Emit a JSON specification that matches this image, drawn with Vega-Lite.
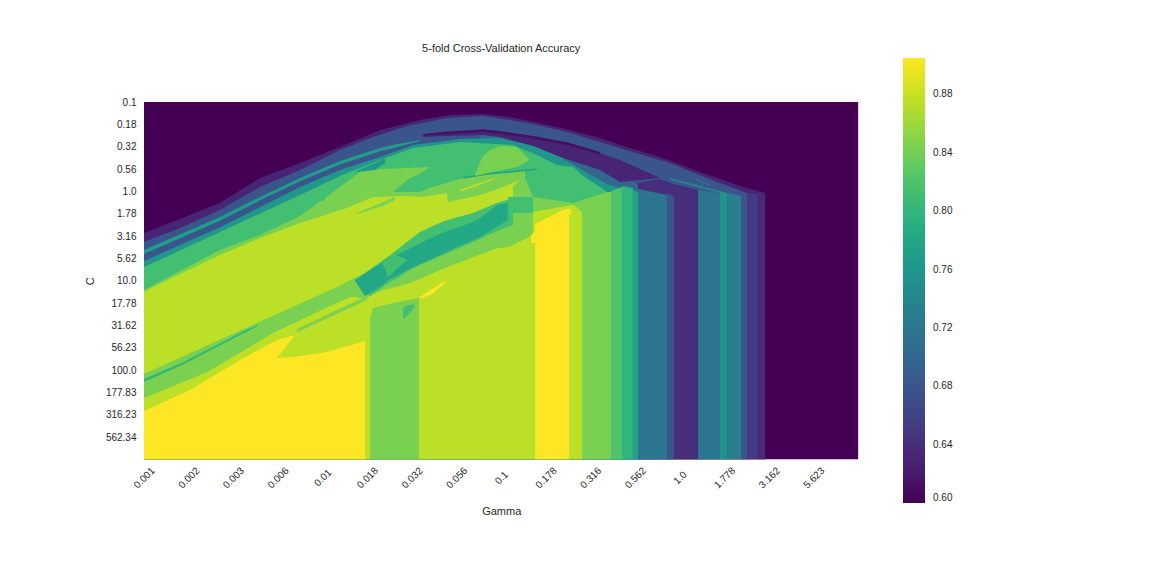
{"$schema":"https://vega.github.io/schema/vega-lite/v6.json","autosize":"none","padding":{"left":144,"top":102,"right":293.6,"bottom":116.5},"width":714.4,"height":357.5,"background":"white","title":{"text":"5-fold Cross-Validation Accuracy","fontSize":11,"font":"Liberation Sans","fontWeight":"normal","color":"#262626","offset":4},
"config":{"view":{"stroke":null}},
"data":{"values":[
{"r":0,"v":0.6,"g":0,"a":0,"b":160},{"r":0,"v":0.6,"g":320,"a":0,"b":160},
{"r":1,"v":0.63,"g":0,"a":58.6,"b":160},{"r":1,"v":0.63,"g":16.1,"a":52.4,"b":160},{"r":1,"v":0.63,"g":34,"a":45.2,"b":160},{"r":1,"v":0.63,"g":52,"a":34,"b":160},{"r":1,"v":0.63,"g":69.9,"a":27.3,"b":160},{"r":1,"v":0.63,"g":87.8,"a":20.1,"b":160},{"r":1,"v":0.63,"g":105.7,"a":12.5,"b":160},{"r":1,"v":0.63,"g":123.6,"a":8.1,"b":160},{"r":1,"v":0.63,"g":137,"a":5.8,"b":160},{"r":1,"v":0.63,"g":151.9,"a":5.4,"b":160},{"r":1,"v":0.63,"g":164,"a":6.7,"b":160},{"r":1,"v":0.63,"g":185,"a":11.2,"b":160},{"r":1,"v":0.63,"g":204.3,"a":16.1,"b":160},{"r":1,"v":0.63,"g":213.2,"a":19.2,"b":160},{"r":1,"v":0.63,"g":231.2,"a":24.6,"b":160},{"r":1,"v":0.63,"g":249,"a":31.3,"b":160},{"r":1,"v":0.63,"g":267,"a":37.6,"b":160},{"r":1,"v":0.63,"g":278.2,"a":40.7,"b":160},
{"r":2,"v":0.68,"g":0,"a":62.7,"b":160},{"r":2,"v":0.68,"g":16.1,"a":56.4,"b":160},{"r":2,"v":0.68,"g":34,"a":48.3,"b":160},{"r":2,"v":0.68,"g":52,"a":38,"b":160},{"r":2,"v":0.68,"g":69.9,"a":30.4,"b":160},{"r":2,"v":0.68,"g":87.8,"a":21.5,"b":160},{"r":2,"v":0.68,"g":102.6,"a":15.7,"b":160},{"r":2,"v":0.68,"g":117.8,"a":10.7,"b":160},{"r":2,"v":0.68,"g":135.7,"a":7.2,"b":160},{"r":2,"v":0.68,"g":151.9,"a":6.3,"b":160},{"r":2,"v":0.68,"g":164,"a":8.1,"b":160},{"r":2,"v":0.68,"g":174.3,"a":9.8,"b":160},{"r":2,"v":0.68,"g":189.5,"a":13.4,"b":160},{"r":2,"v":0.68,"g":204.3,"a":17.9,"b":160},{"r":2,"v":0.68,"g":219,"a":22.4,"b":160},{"r":2,"v":0.68,"g":235.6,"a":27.3,"b":160},{"r":2,"v":0.68,"g":249,"a":32.7,"b":160},{"r":2,"v":0.68,"g":258,"a":36.3,"b":160},{"r":2,"v":0.68,"g":270.1,"a":40.7,"b":160},
{"r":3,"v":0.7,"g":150.5,"a":14.8,"b":160},{"r":3,"v":0.7,"g":168.4,"a":16.1,"b":160},{"r":3,"v":0.7,"g":186.4,"a":21.5,"b":160},{"r":3,"v":0.7,"g":204.3,"a":28.2,"b":160},{"r":3,"v":0.7,"g":222.2,"a":37.2,"b":160},
{"r":4,"v":0.63,"g":125,"a":14.8,"b":15.7},{"r":4,"v":0.63,"g":135.7,"a":13,"b":15.2},{"r":4,"v":0.63,"g":151.9,"a":12.5,"b":14.8},{"r":4,"v":0.63,"g":159.5,"a":13.4,"b":15.7},{"r":4,"v":0.63,"g":174.3,"a":15.7,"b":19.7},{"r":4,"v":0.63,"g":186.4,"a":18,"b":24.6},{"r":4,"v":0.63,"g":204.3,"a":22.8,"b":30.4},{"r":4,"v":0.63,"g":213.2,"a":26,"b":35.8},{"r":4,"v":0.63,"g":222.2,"a":30,"b":34.9},{"r":4,"v":0.63,"g":231.2,"a":34,"b":34},
{"r":5,"v":0.61,"g":125,"a":14.3,"b":15},{"r":5,"v":0.61,"g":151.9,"a":12.2,"b":13.4},{"r":5,"v":0.61,"g":159.5,"a":13,"b":14.2},{"r":5,"v":0.61,"g":174.3,"a":15.2,"b":16.4},{"r":5,"v":0.61,"g":189.5,"a":18,"b":19.2},{"r":5,"v":0.61,"g":204.3,"a":22.4,"b":23.5},
{"r":6,"v":0.77,"g":0,"a":66.2,"b":68},{"r":6,"v":0.77,"g":34,"a":51.5,"b":53.2},{"r":6,"v":0.77,"g":52,"a":42.5,"b":44},{"r":6,"v":0.77,"g":69.9,"a":34,"b":35.5},{"r":6,"v":0.77,"g":87.8,"a":26.4,"b":28},{"r":6,"v":0.77,"g":105.7,"a":20.6,"b":22},{"r":6,"v":0.77,"g":112.4,"a":19,"b":20.5},{"r":6,"v":0.77,"g":123.6,"a":17,"b":17.5},
{"r":7,"v":0.76,"g":0,"a":71.2,"b":160},{"r":7,"v":0.76,"g":34,"a":56,"b":160},{"r":7,"v":0.76,"g":69.9,"a":38,"b":160},{"r":7,"v":0.76,"g":87.8,"a":30.4,"b":160},{"r":7,"v":0.76,"g":105.7,"a":24.6,"b":160},{"r":7,"v":0.76,"g":120.5,"a":19.2,"b":160},{"r":7,"v":0.76,"g":141.6,"a":16.6,"b":160},{"r":7,"v":0.76,"g":159.5,"a":16.1,"b":160},{"r":7,"v":0.76,"g":174.3,"a":19.7,"b":160},{"r":7,"v":0.76,"g":186.4,"a":24.6,"b":160},{"r":7,"v":0.76,"g":198.5,"a":31.8,"b":160},{"r":7,"v":0.76,"g":207.4,"a":36.7,"b":160},{"r":7,"v":0.76,"g":215.5,"a":39.4,"b":160},
{"r":8,"v":0.8135,"g":0,"a":73.9,"b":160},{"r":8,"v":0.8135,"g":34,"a":58.2,"b":160},{"r":8,"v":0.8135,"g":69.9,"a":41.6,"b":160},{"r":8,"v":0.8135,"g":87.8,"a":33.1,"b":160},{"r":8,"v":0.8135,"g":105.7,"a":26,"b":160},{"r":8,"v":0.8135,"g":120.5,"a":20.6,"b":160},{"r":8,"v":0.8135,"g":141.6,"a":17.9,"b":160},{"r":8,"v":0.8135,"g":165.3,"a":19.2,"b":160},{"r":8,"v":0.8135,"g":176,"a":23.7,"b":160},{"r":8,"v":0.8135,"g":185,"a":28.2,"b":160},{"r":8,"v":0.8135,"g":192.2,"a":29.1,"b":160},{"r":8,"v":0.8135,"g":196.7,"a":33.1,"b":160},{"r":8,"v":0.8135,"g":204.3,"a":38,"b":160},{"r":8,"v":0.8135,"g":207.4,"a":40.3,"b":160},{"r":8,"v":0.8135,"g":215.5,"a":41,"b":160},
{"r":9,"v":0.76,"g":95.4,"a":30.9,"b":31.3},{"r":9,"v":0.76,"g":103.5,"a":27.3,"b":30.4},{"r":9,"v":0.76,"g":108,"a":25.1,"b":27.3},
{"r":10,"v":0.844,"g":0,"a":84.1,"b":160},{"r":10,"v":0.844,"g":34,"a":66.2,"b":160},{"r":10,"v":0.844,"g":52,"a":59.5,"b":160},{"r":10,"v":0.844,"g":69.9,"a":51,"b":160},{"r":10,"v":0.844,"g":87.8,"a":38,"b":160},{"r":10,"v":0.844,"g":96.8,"a":31.3,"b":160},{"r":10,"v":0.844,"g":107,"a":30,"b":160},{"r":10,"v":0.844,"g":128.1,"a":29.1,"b":160},{"r":10,"v":0.844,"g":137,"a":35.8,"b":160},{"r":10,"v":0.844,"g":142.9,"a":34,"b":160},{"r":10,"v":0.844,"g":153.7,"a":32.2,"b":160},{"r":10,"v":0.844,"g":164,"a":31.3,"b":160},{"r":10,"v":0.844,"g":170.7,"a":30.4,"b":160},
{"r":11,"v":0.844,"g":170.7,"a":34,"b":160},{"r":11,"v":0.844,"g":174.3,"a":42.5,"b":160},{"r":11,"v":0.844,"g":192.2,"a":45.2,"b":160},{"r":11,"v":0.844,"g":207.4,"a":40.3,"b":160},{"r":11,"v":0.844,"g":209.2,"a":40.3,"b":160},
{"r":12,"v":0.8135,"g":111.6,"a":40.3,"b":40.3},{"r":12,"v":0.8135,"g":117.8,"a":34.9,"b":40.3},{"r":12,"v":0.8135,"g":123.6,"a":32,"b":40.3},{"r":12,"v":0.8135,"g":128.1,"a":29.1,"b":38.4},{"r":12,"v":0.8135,"g":137,"a":35.8,"b":35.8},
{"r":13,"v":0.8135,"g":74.4,"a":45.2,"b":45.7},{"r":13,"v":0.8135,"g":81,"a":43,"b":43.9},
{"r":14,"v":0.78,"g":142.9,"a":33.6,"b":34.4},{"r":14,"v":0.78,"g":153.7,"a":31.8,"b":32.6},{"r":14,"v":0.78,"g":164,"a":30.9,"b":31.7},{"r":14,"v":0.78,"g":176,"a":29.8,"b":30.4},
{"r":15,"v":0.844,"g":148.3,"a":32.7,"b":33.1},{"r":15,"v":0.844,"g":151.4,"a":24.6,"b":32.4},{"r":15,"v":0.844,"g":155,"a":21.5,"b":31.6},{"r":15,"v":0.844,"g":159.5,"a":19.7,"b":30.6},{"r":15,"v":0.844,"g":167.1,"a":20.1,"b":29.1},{"r":15,"v":0.844,"g":172.9,"a":26,"b":26},
{"r":16,"v":0.8745,"g":0,"a":85,"b":160},{"r":16,"v":0.8745,"g":5.8,"a":81.9,"b":160},{"r":16,"v":0.8745,"g":34,"a":68.5,"b":160},{"r":16,"v":0.8745,"g":52,"a":60.9,"b":160},{"r":16,"v":0.8745,"g":69.9,"a":54.2,"b":160},{"r":16,"v":0.8745,"g":90.9,"a":47.4,"b":160},{"r":16,"v":0.8745,"g":102.6,"a":42.5,"b":160},{"r":16,"v":0.8745,"g":117.8,"a":42.1,"b":160},{"r":16,"v":0.8745,"g":125,"a":42.5,"b":160},{"r":16,"v":0.8745,"g":135.7,"a":40.7,"b":160},{"r":16,"v":0.8745,"g":136.2,"a":44.8,"b":160},{"r":16,"v":0.8745,"g":150.5,"a":41.6,"b":160},{"r":16,"v":0.8745,"g":164,"a":37.2,"b":160},{"r":16,"v":0.8745,"g":165.3,"a":37,"b":160},
{"r":17,"v":0.8745,"g":141.6,"a":39.4,"b":40.2},{"r":17,"v":0.8745,"g":147.4,"a":37.2,"b":38.1},{"r":17,"v":0.8745,"g":157.2,"a":34,"b":34.5},
{"r":18,"v":0.8745,"g":159.5,"a":38.5,"b":43.9},{"r":18,"v":0.8745,"g":168.4,"a":34.9,"b":34.9},
{"r":19,"v":0.844,"g":95.4,"a":49.7,"b":50.1},{"r":19,"v":0.844,"g":107,"a":44.8,"b":46.5},{"r":19,"v":0.844,"g":112.4,"a":42.5,"b":43.9},
{"r":20,"v":0.844,"g":0,"a":121.7,"b":132.5},{"r":20,"v":0.844,"g":28.2,"a":109,"b":120.9},{"r":20,"v":0.844,"g":50.6,"a":98.9,"b":107.7},{"r":20,"v":0.844,"g":57.8,"a":95.7,"b":103.4},{"r":20,"v":0.844,"g":86.5,"a":82.8,"b":89.8},{"r":20,"v":0.844,"g":99.9,"a":78,"b":84.1},
{"r":21,"v":0.8,"g":0,"a":124,"b":125.3},{"r":21,"v":0.8,"g":17.5,"a":116.5,"b":117.5},{"r":21,"v":0.8,"g":43,"a":103.4,"b":104.3},{"r":21,"v":0.8,"g":50.6,"a":99.8,"b":100.5},
{"r":22,"v":0.844,"g":68.5,"a":101.6,"b":103},{"r":22,"v":0.844,"g":99.9,"a":86.8,"b":88.6},
{"r":23,"v":0.844,"g":86.5,"a":82.8,"b":84.6},{"r":23,"v":0.844,"g":90.9,"a":80.4,"b":86.8},{"r":23,"v":0.844,"g":93.6,"a":79,"b":87.2},{"r":23,"v":0.844,"g":99,"a":76.5,"b":88.2},{"r":23,"v":0.844,"g":102.6,"a":73.9,"b":86},{"r":23,"v":0.844,"g":107,"a":71,"b":84.1},{"r":23,"v":0.844,"g":113.3,"a":66.2,"b":82.7},{"r":23,"v":0.844,"g":119.2,"a":62,"b":81},{"r":23,"v":0.844,"g":123.6,"a":58.2,"b":79.2},{"r":23,"v":0.844,"g":132.6,"a":54.2,"b":75.2},{"r":23,"v":0.844,"g":135.7,"a":52.8,"b":74},{"r":23,"v":0.844,"g":147.4,"a":49.7,"b":69.5},{"r":23,"v":0.844,"g":153.7,"a":47.3,"b":67.1},{"r":23,"v":0.844,"g":158.1,"a":45.2,"b":65.4},{"r":23,"v":0.844,"g":163,"a":43.9,"b":64.9},{"r":23,"v":0.844,"g":165.3,"a":43.9,"b":64},
{"r":24,"v":0.8135,"g":94.5,"a":79.7,"b":80.1},{"r":24,"v":0.8135,"g":101.2,"a":75,"b":86.8},{"r":24,"v":0.8135,"g":110.2,"a":68.7,"b":80.6},{"r":24,"v":0.8135,"g":113.3,"a":66.2,"b":79},{"r":24,"v":0.8135,"g":117.8,"a":62.7,"b":76},{"r":24,"v":0.8135,"g":123.6,"a":58.2,"b":73},{"r":24,"v":0.8135,"g":134,"a":53.5,"b":68.5},{"r":24,"v":0.8135,"g":147.4,"a":49.7,"b":62.7},{"r":24,"v":0.8135,"g":158.1,"a":45.2,"b":57.8},{"r":24,"v":0.8135,"g":163,"a":43.9,"b":55.7},{"r":24,"v":0.8135,"g":165.3,"a":49.7,"b":55},
{"r":25,"v":0.783,"g":94.5,"a":79.7,"b":80.1},{"r":25,"v":0.783,"g":99,"a":76.8,"b":86.8},{"r":25,"v":0.783,"g":107,"a":71.6,"b":81.8},{"r":25,"v":0.783,"g":110.2,"a":70,"b":79.2},{"r":25,"v":0.783,"g":113.3,"a":68.5,"b":77.8},{"r":25,"v":0.783,"g":117.8,"a":66.2,"b":75.2},{"r":25,"v":0.783,"g":129.5,"a":60.4,"b":69.8},{"r":25,"v":0.783,"g":132.6,"a":59,"b":68.5},{"r":25,"v":0.783,"g":147.4,"a":53.7,"b":61.8},{"r":25,"v":0.783,"g":150.5,"a":52,"b":60.4},{"r":25,"v":0.783,"g":158.1,"a":46.1,"b":55.8},{"r":25,"v":0.783,"g":163,"a":45.2,"b":52.8},
{"r":26,"v":0.8135,"g":107,"a":71.6,"b":72.5},{"r":26,"v":0.8135,"g":109.3,"a":70.5,"b":78.3},{"r":26,"v":0.8135,"g":113.3,"a":68.5,"b":74.7},{"r":26,"v":0.8135,"g":117.8,"a":70.7,"b":70.7},
{"r":27,"v":0.8135,"g":163,"a":42.5,"b":49.7},{"r":27,"v":0.8135,"g":174.3,"a":42.5,"b":49.7},
{"r":28,"v":0.844,"g":165.3,"a":49.7,"b":64},{"r":28,"v":0.844,"g":174.3,"a":49.7,"b":59.5},
{"r":29,"v":0.8745,"g":165.3,"a":64,"b":160},{"r":29,"v":0.8745,"g":174.3,"a":59.5,"b":160},
{"r":30,"v":0.8745,"g":174.3,"a":49.2,"b":160},{"r":30,"v":0.8745,"g":192.2,"a":46,"b":160},{"r":30,"v":0.8745,"g":196.2,"a":49.2,"b":160},
{"r":31,"v":0.905,"g":173.4,"a":59.5,"b":63.1},{"r":31,"v":0.905,"g":175.2,"a":58,"b":63.1},
{"r":32,"v":0.905,"g":175.2,"a":54.6,"b":160},{"r":32,"v":0.905,"g":180.5,"a":51.9,"b":160},{"r":32,"v":0.905,"g":187.7,"a":48.3,"b":160},{"r":32,"v":0.905,"g":190.4,"a":47.9,"b":160},
{"r":33,"v":0.905,"g":190.4,"a":47.9,"b":50.5},{"r":33,"v":0.905,"g":191.3,"a":47.9,"b":50.1},
{"r":34,"v":0.905,"g":0,"a":138.3,"b":160},{"r":34,"v":0.905,"g":20.6,"a":128.9,"b":160},{"r":34,"v":0.905,"g":43,"a":115.5,"b":160},{"r":34,"v":0.905,"g":59.6,"a":106.5,"b":160},{"r":34,"v":0.905,"g":67.6,"a":104.3,"b":160},{"r":34,"v":0.905,"g":99,"a":104.3,"b":160},
{"r":35,"v":0.8745,"g":59.6,"a":114.6,"b":114.6},{"r":35,"v":0.8745,"g":67.6,"a":104.3,"b":114},{"r":35,"v":0.8745,"g":73,"a":104.3,"b":113.2},{"r":35,"v":0.8745,"g":82,"a":104.3,"b":111.9},{"r":35,"v":0.8745,"g":99,"a":104.3,"b":107},
{"r":36,"v":0.844,"g":101.2,"a":96.7,"b":160},{"r":36,"v":0.844,"g":102.6,"a":92.2,"b":160},{"r":36,"v":0.844,"g":111.6,"a":90,"b":160},{"r":36,"v":0.844,"g":123.2,"a":87.7,"b":160},
{"r":37,"v":0.8135,"g":116,"a":92.9,"b":96.7},{"r":37,"v":0.8135,"g":116.9,"a":91.3,"b":96.7},{"r":37,"v":0.8135,"g":121,"a":90.4,"b":92.2},
{"r":38,"v":0.905,"g":123.6,"a":87.3,"b":88.2},{"r":38,"v":0.905,"g":129,"a":83.7,"b":86},{"r":38,"v":0.905,"g":134.8,"a":80.1,"b":81},
{"r":40,"v":0.64,"g":221.3,"a":36.3,"b":160},{"r":40,"v":0.64,"g":231.2,"a":34.5,"b":160},{"r":40,"v":0.64,"g":237.4,"a":36.7,"b":160},{"r":40,"v":0.64,"g":248.2,"a":39.4,"b":160},
{"r":41,"v":0.82,"g":209.2,"a":39.8,"b":160},{"r":41,"v":0.82,"g":214.1,"a":38,"b":160},
{"r":42,"v":0.8,"g":214.1,"a":37.6,"b":160},{"r":42,"v":0.8,"g":219,"a":38.5,"b":160},
{"r":43,"v":0.775,"g":219,"a":39.4,"b":160},{"r":43,"v":0.775,"g":221.3,"a":40.3,"b":160},
{"r":44,"v":0.72,"g":221.3,"a":38.9,"b":160},{"r":44,"v":0.72,"g":234.3,"a":41.6,"b":160},
{"r":45,"v":0.68,"g":234.3,"a":40.7,"b":160},{"r":45,"v":0.68,"g":237.4,"a":42.5,"b":160},
{"r":46,"v":0.72,"g":248.2,"a":39.4,"b":160},{"r":46,"v":0.72,"g":258,"a":40.7,"b":160},
{"r":47,"v":0.755,"g":258,"a":39.8,"b":160},{"r":47,"v":0.755,"g":261.2,"a":40.7,"b":160},
{"r":48,"v":0.73,"g":261.2,"a":40.7,"b":160},{"r":48,"v":0.73,"g":267.5,"a":42.1,"b":160},
{"r":49,"v":0.68,"g":267.5,"a":41.6,"b":160},{"r":49,"v":0.68,"g":270.1,"a":42.5,"b":160},
{"r":50,"v":0.65,"g":270.1,"a":40.7,"b":160},{"r":50,"v":0.65,"g":275,"a":41.2,"b":160},
{"r":51,"v":0.635,"g":275,"a":40.3,"b":160},{"r":51,"v":0.635,"g":278.2,"a":40.7,"b":160},
{"r":52,"v":0.74,"g":235.6,"a":34,"b":34.8},{"r":52,"v":0.74,"g":247.7,"a":37.2,"b":38},{"r":52,"v":0.74,"g":258,"a":39.8,"b":40.6},
{"r":53,"v":0.72,"g":246.8,"a":34,"b":34.6},{"r":53,"v":0.72,"g":253.6,"a":37,"b":37.6}
]},
"mark":{"type":"area","orient":"vertical","interpolate":"linear","clip":true},
"encoding":{
"detail":{"field":"r","type":"nominal"},
"x":{"field":"g","type":"quantitative","scale":{"domain":[0,320],"nice":false,"zero":false},"axis":{"title":"Gamma","titleFont":"Liberation Sans","titleFontSize":11,"titleFontWeight":"normal","titleColor":"#262626","titlePadding":16,"domain":false,"ticks":false,"grid":false,"values":[0,20,40,60,80,100,120,140,160,180,200,220,240,260,280,300],"labelExpr":"round(pow(10,-3+datum.value/80)*1000)/1000+(round(pow(10,-3+datum.value/80)*1000)%1000==0?'.0':'')","labelAngle":-45,"labelAlign":"center","labelBaseline":"middle","labelPadding":18,"labelFont":"Liberation Sans","labelFontSize":10,"labelColor":"#262626","labelOverlap":false,"labelBound":false,"labelFlush":false}},
"y":{"field":"a","type":"quantitative","scale":{"domain":[0,160],"nice":false,"zero":false,"reverse":true},"axis":{"title":"C","titleFont":"Liberation Sans","titleFontSize":11,"titleFontWeight":"normal","titleColor":"#262626","titlePadding":10,"domain":false,"ticks":false,"grid":false,"values":[0,10,20,30,40,50,60,70,80,90,100,110,120,130,140,150],"labelExpr":"round(pow(10,-1+datum.value/40)*100)/100+(round(pow(10,-1+datum.value/40)*100)%100==0?'.0':'')","labelPadding":8,"labelFont":"Liberation Sans","labelFontSize":10,"labelColor":"#262626","labelOverlap":false,"labelBound":false,"labelFlush":false}},
"y2":{"field":"b"},
"color":{"field":"v","type":"quantitative","scale":{"scheme":"viridis","domain":[0.6,0.905],"nice":false,"zero":false},"legend":{"title":null,"orient":"none","legendX":759,"legendY":-44,"gradientLength":445,"gradientThickness":22,"gradientStrokeWidth":0,"values":[0.6,0.64,0.68,0.72,0.76,0.8,0.84,0.88],"format":".2f","labelFont":"Liberation Sans","labelFontSize":10,"labelColor":"#262626","labelOffset":8,"labelBaseline":"middle","labelOverlap":false}}
}}
